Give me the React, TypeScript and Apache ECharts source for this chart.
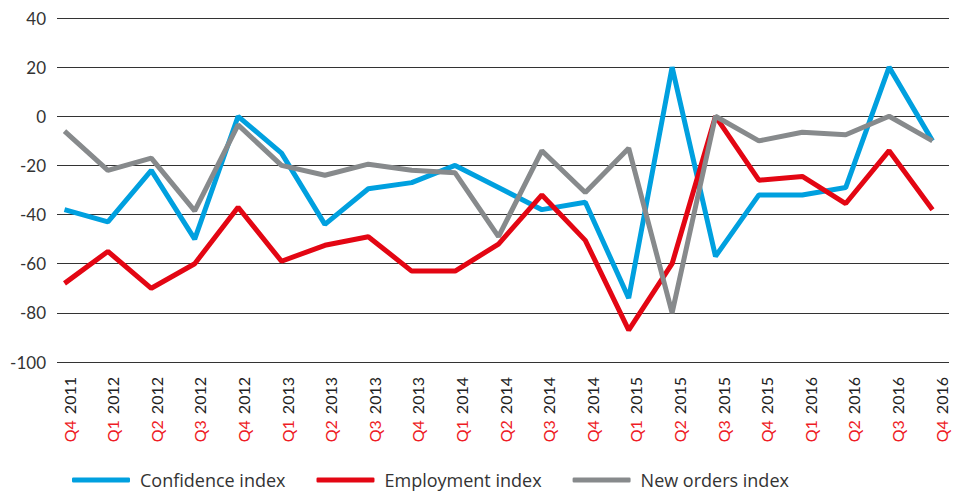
import React, { useEffect, useRef } from "react";
import * as echarts from "echarts";

const quarters = ["Q4","Q1","Q2","Q3","Q4","Q1","Q2","Q3","Q4","Q1","Q2","Q3","Q4","Q1","Q2","Q3","Q4","Q1","Q2","Q3","Q4"];
const years = ["2011","2012","2012","2012","2012","2013","2013","2013","2013","2014","2014","2014","2014","2015","2015","2015","2015","2016","2016","2016","2016"];
const categories = quarters.map((q, i) => `${q} ${years[i]}`);

const confidence = [-38, -43, -22, -50, 0, -15, -44, -29.5, -27, -20, -29, -38, -35, -74, 20, -57, -32, -32, -29, 20, -10];
const employment = [-68, -55, -70, -60, -37, -59, -52.5, -49, -63, -63, -52, -32, -50.5, -87, -60, 0, -26, -24.5, -35.5, -14, -38];
const newOrders = [-6, -22, -17, -38.5, -3.5, -20, -24, -19.5, -22, -23, -49, -14, -31, -13, -80, 0, -10, -6.5, -7.5, 0, -10];

const yTicks = [-100, -80, -60, -40, -20, 0, 20, 40];

const BLUE = "#00A0DF";
const RED = "#E30613";
const GRAY = "#878A8C";
const FONT = "Lato";

export default function App() {
  const ref = useRef<HTMLDivElement>(null);
  useEffect(() => {
    if (!ref.current) return;
    const chart = echarts.init(ref.current, null, { renderer: "svg" });
    const top = 18;
    const bottom = 130;
    chart.setOption({
      animation: false,
      textStyle: { fontFamily: FONT },
      grid: [
        { left: 57, right: 13, top, bottom },
        { left: 64.5, right: 29.5, top, bottom },
        { left: 69, right: 21, top, bottom },
      ],
      xAxis: [
        { type: "value", gridIndex: 0, show: false, min: 0, max: 1 },
        {
          type: "category", gridIndex: 1, data: categories, boundaryGap: false,
          axisLine: { show: false }, axisTick: { show: false }, axisLabel: { show: false }, splitLine: { show: false },
        },
        {
          type: "category", gridIndex: 2, data: categories, boundaryGap: false,
          axisLine: { show: false }, axisTick: { show: false }, splitLine: { show: false },
          axisLabel: {
            rotate: 90, interval: 0, margin: 15,
            formatter: (v: string) => {
              const [q, y] = v.split(" ");
              return `{q|${q}}{y|${y}}`;
            },
            rich: {
              q: { color: "#EE1C25", fontSize: 16, fontFamily: FONT },
              y: { color: "#222", fontSize: 16, fontFamily: FONT, padding: [0, 0, 0, 6] },
            },
          },
        },
      ],
      yAxis: [
        {
          type: "value", gridIndex: 0, min: yTicks[0], max: yTicks[yTicks.length - 1], interval: 20,
          axisLine: { show: false }, axisTick: { show: false },
          axisLabel: { color: "#333", fontSize: 17, margin: 11, fontFamily: FONT },
          splitLine: { lineStyle: { color: "#333", width: 1 } },
        },
        { type: "value", gridIndex: 1, min: -100, max: 40, show: false },
        { type: "value", gridIndex: 2, min: -100, max: 40, show: false },
      ],
      legend: {
        top: 471, left: 72,
        itemWidth: 58, itemHeight: 5, itemGap: 31, padding: 0,
        icon: "roundRect",
        textStyle: { color: "#333", fontSize: 18, fontFamily: "Open Sans", padding: [0, 0, 0, 5] },
        data: ["Confidence index", "Employment index", "New orders index"],
      },
      series: [
        { name: "Confidence index", type: "line", xAxisIndex: 1, yAxisIndex: 1, data: confidence, symbol: "none", lineStyle: { color: BLUE, width: 5 }, itemStyle: { color: BLUE } },
        { name: "Employment index", type: "line", xAxisIndex: 1, yAxisIndex: 1, data: employment, symbol: "none", lineStyle: { color: RED, width: 5 }, itemStyle: { color: RED } },
        { name: "New orders index", type: "line", xAxisIndex: 1, yAxisIndex: 1, data: newOrders, symbol: "none", lineStyle: { color: GRAY, width: 5 }, itemStyle: { color: GRAY } },
      ],
    });
    return () => chart.dispose();
  }, []);
  return <div ref={ref} style={{ width: 962, height: 492, position: "absolute", left: 0, top: 0 }} />;
}
